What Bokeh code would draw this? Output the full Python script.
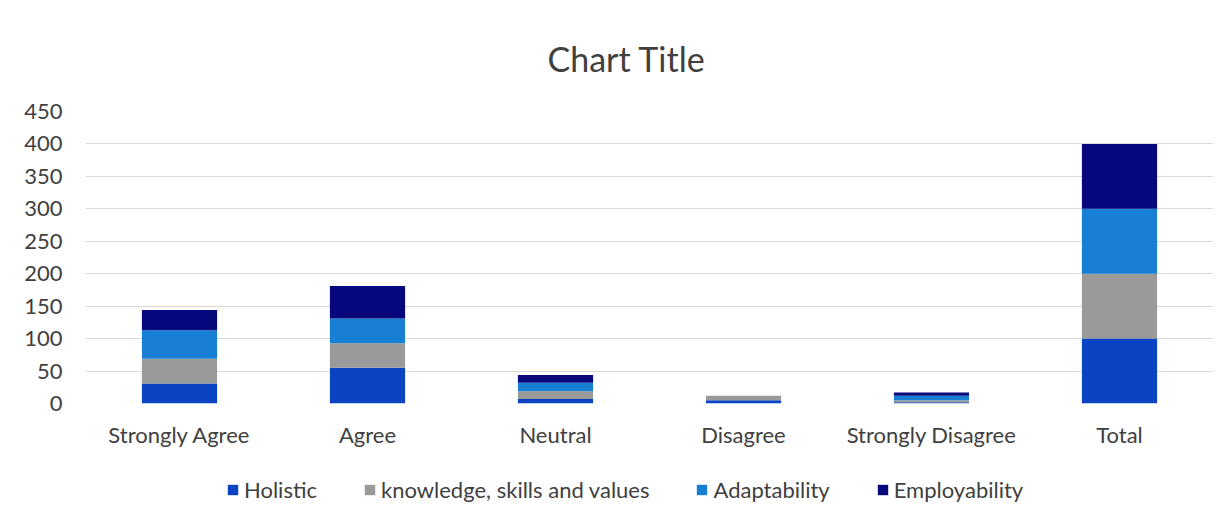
from bokeh.plotting import figure
from bokeh.layouts import column
from bokeh.models import Range1d, FactorRange, Legend, LegendItem, ColumnDataSource
from bokeh.embed import file_html
from bokeh.resources import INLINE

categories = ["Strongly Agree", "Agree", "Neutral", "Disagree", "Strongly Disagree", "Total"]
series_names = ["Holistic", "knowledge, skills and values", "Adaptability", "Employability"]
holistic = [31, 55, 7, 5, 2, 100]
knowledge = [38, 38, 12, 7, 3, 100]
adaptability = [44, 38, 13, 0, 7, 100]
employability = [31, 50, 12, 0, 5, 100]
y_ticks = [0, 50, 100, 150, 200, 250, 300, 350, 400, 450]
colors = ["#0a44c2", "#9a9a9a", "#1880d4", "#06087c"]

FONT = "Lato"
TEXT = "#404040"

src = ColumnDataSource(dict(cat=categories, h=holistic, k=knowledge, a=adaptability, e=employability))

p = figure(x_range=FactorRange(*categories, range_padding=0), y_range=Range1d(0, 450),
           width=1220, height=450, output_backend="svg", toolbar_location=None,
           min_border_left=85, min_border_right=7, min_border_top=111, min_border_bottom=45,
           title="Chart Title")

rs = p.vbar_stack(["h", "k", "a", "e"], x="cat", width=0.4, color=colors, source=src, line_width=0)

p.title.align = "left"
p.title.text_font = FONT
p.title.text_font_size = "34px"
p.title.text_font_style = "normal"
p.title.text_color = TEXT
p.title.standoff = 65
p.title.offset = 462

p.outline_line_color = None
p.xgrid.grid_line_color = None
p.ygrid.grid_line_color = "#d9d9d9"
p.ygrid.grid_line_width = 1
p.yaxis.ticker = y_ticks

for ax in (p.xaxis[0], p.yaxis[0]):
    ax.axis_line_color = None
    ax.major_tick_line_color = None
    ax.minor_tick_line_color = None
    ax.major_label_text_font = FONT
    ax.major_label_text_font_size = "22px"
    ax.major_label_text_color = TEXT
p.yaxis.major_label_standoff = 17
p.xaxis.major_label_standoff = 11

# legend strip below the chart (its swatches come from off-range dummy bars)
lg = figure(width=1220, height=60, output_backend="svg", toolbar_location=None,
            x_range=Range1d(0, 1), y_range=Range1d(0, 1),
            min_border_left=0, min_border_right=0, min_border_top=0, min_border_bottom=0)
lg.axis.visible = False
lg.grid.visible = False
lg.outline_line_color = None
offrange = ColumnDataSource(dict(x=[-10], top=[-10]))
dummies = [lg.vbar(x="x", top="top", bottom=-11, width=0.1, color=c, source=offrange, line_width=0)
           for c in colors]

legend = Legend(items=[LegendItem(label=n, renderers=[r]) for n, r in zip(series_names, dummies)],
                location=(141, 7), orientation="horizontal",
                label_text_font=FONT, label_text_font_size="22px", label_text_color=TEXT,
                glyph_width=13, glyph_height=13, label_standoff=5, spacing=46,
                padding=0, margin=0, border_line_color=None, background_fill_alpha=0)
lg.add_layout(legend, "center")

layout = column(p, lg, spacing=0)
open("out.html", "w").write(file_html(layout, INLINE))
